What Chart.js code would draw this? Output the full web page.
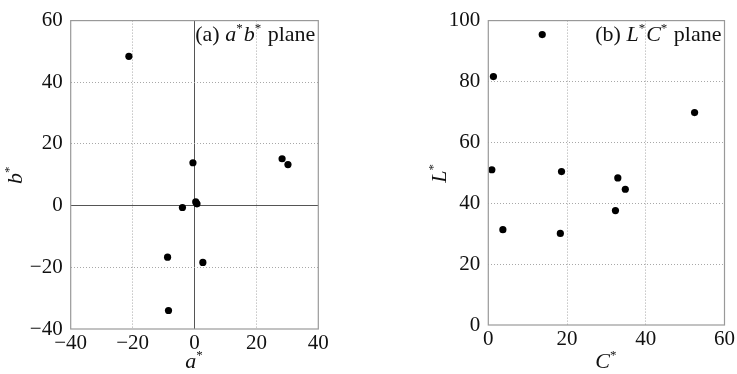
<!DOCTYPE html>
<html>
<head>
<meta charset="utf-8">
<title>a*b* and L*C* planes</title>
<script src="https://cdn.jsdelivr.net/npm/chart.js@4.4.1/dist/chart.umd.min.js"></script>
<style>
  html,body{margin:0;padding:0;background:#fff;}
  #wrap{position:relative;width:737px;height:374px;overflow:hidden;}
  canvas{position:absolute;top:0;}
  #c1{left:0;}
  #c2{left:400px;}
</style>
</head>
<body>
<div id="wrap">
  <canvas id="c1" width="340" height="374"></canvas>
  <canvas id="c2" width="337" height="374"></canvas>
</div>
<script>
// sample values
const aStar = [-21.2, -0.5, 28.3, 30.2, 0.4, 0.8, -3.9, -8.7, 2.7, -8.4];
const bStar = [48.4, 13.9, 15.2, 13.3, 1.2, 0.6, -0.6, -16.7, -18.4, -34.0];
const cStar = [13.7, 1.3, 52.4, 0.9, 18.6, 32.9, 34.8, 32.3, 3.7, 18.3];
const lStar = [95.4, 81.6, 69.8, 51.0, 50.4, 48.3, 44.6, 37.6, 31.3, 30.1];

const abRangeX = [-40, 40], abRangeY = [-40, 60];
const lcRangeX = [0, 60], lcRangeY = [0, 100];
const tickStep = 20;

const SERIF = '"Liberation Serif", "DejaVu Serif", serif';

function toPoints(xs, ys){ return xs.map((x,i)=>({x:x, y:ys[i]})); }
function minus(v){ return String(v).replace('-', '\u2212'); }

// draw a run of text pieces; pieces with sup:true are small raised asterisks
function drawRich(ctx, parts, x, y, align){
  const fontOf = p => p.sup ? '13px '+SERIF : (p.it ? 'italic ' : '')+'22px '+SERIF;
  let w = 0;
  parts.forEach(p=>{ ctx.font = fontOf(p); w += ctx.measureText(p.t).width + (p.sup ? 1 : 0); });
  let cx = align==='right' ? x - w : align==='center' ? x - w/2 : x;
  ctx.fillStyle = '#111';
  ctx.textBaseline = 'alphabetic';
  ctx.textAlign = 'left';
  parts.forEach(p=>{
    ctx.font = fontOf(p);
    ctx.fillText(p.t, cx, p.sup ? y - 9 : y);
    cx += ctx.measureText(p.t).width + (p.sup ? 1 : 0);
  });
  return w;
}

// frame + labels plugin
const decor = {
  id:'decor',
  afterDraw(chart, args, opts){
    const ctx = chart.ctx, a = chart.chartArea;
    ctx.save();
    ctx.strokeStyle = '#999';
    ctx.lineWidth = 1.2;
    ctx.strokeRect(a.left, a.top, a.right-a.left, a.bottom-a.top);
    // panel name in upper right
    drawRich(ctx, opts.panel, a.right - 3, a.top + 20, 'right');
    // x title
    drawRich(ctx, opts.xTitle, (a.left+a.right)/2, 368, 'center');
    // y title, rotated
    ctx.translate(opts.yTitleX, (a.top+a.bottom)/2);
    ctx.rotate(-Math.PI/2);
    drawRich(ctx, opts.yTitle, 0, 0, 'center');
    ctx.restore();
  }
};

function makeChart(id, pts, rx, ry, area, zeroLines, labels){
  const canvas = document.getElementById(id);
  const gridColor = (c, lo, hi)=>{
    const v = c.tick ? c.tick.value : null;
    if(v===lo || v===hi) return 'rgba(0,0,0,0)';
    if(v===0 && zeroLines) return '#555';
    return '#a8a8a8';
  };
  const gridDash = c=> (c.tick && c.tick.value===0 && zeroLines) ? [] : [1,2];
  const tickFont = {family:SERIF, size:21};
  return new Chart(canvas.getContext('2d'), {
    type:'scatter',
    data:{ datasets:[{ data:pts, backgroundColor:'#000', borderColor:'#000', pointRadius:3.6, pointHoverRadius:3.6, borderWidth:0 }] },
    plugins:[decor],
    options:{
      responsive:false, animation:false,
      layout:{ padding:{ top:area.top, right:canvas.width-area.right, left:0, bottom:0 } },
      plugins:{ legend:{display:false}, tooltip:{enabled:false}, decor:labels },
      scales:{
        x:{
          type:'linear', min:rx[0], max:rx[1],
          ticks:{ stepSize:tickStep, color:'#111', font:tickFont, padding:2, maxRotation:0, callback:minus },
          grid:{ color:c=>gridColor(c, rx[0], rx[1]), drawTicks:false, lineWidth:1 },
          border:{ display:false, dash:gridDash },
          afterFit(s){ s.height = canvas.height - area.bottom; }
        },
        y:{
          type:'linear', min:ry[0], max:ry[1],
          ticks:{ stepSize:tickStep, color:'#111', font:tickFont, padding:8, callback:minus },
          grid:{ color:c=>gridColor(c, ry[0], ry[1]), drawTicks:false, lineWidth:1 },
          border:{ display:false, dash:gridDash },
          afterFit(s){ s.width = area.left; }
        }
      }
    }
  });
}

makeChart('c1', toPoints(aStar, bStar), abRangeX, abRangeY,
  {left:70.7, right:318.3, top:14, bottom:329}, true,
  { panel:[{t:'(a) '},{t:'a',it:true},{t:'*',sup:true},{t:'b',it:true},{t:'*',sup:true},{t:' plane'}],
    xTitle:[{t:'a',it:true},{t:'*',sup:true}],
    yTitle:[{t:'b',it:true},{t:'*',sup:true}], yTitleX:22 });

makeChart('c2', toPoints(cStar, lStar), lcRangeX, lcRangeY,
  {left:88.3, right:329, top:15, bottom:325}, false,
  { panel:[{t:'(b) '},{t:'L',it:true},{t:'*',sup:true},{t:'C',it:true},{t:'*',sup:true},{t:' plane'}],
    xTitle:[{t:'C',it:true},{t:'*',sup:true}],
    yTitle:[{t:'L',it:true},{t:'*',sup:true}], yTitleX:46 });
</script>
</body>
</html>
